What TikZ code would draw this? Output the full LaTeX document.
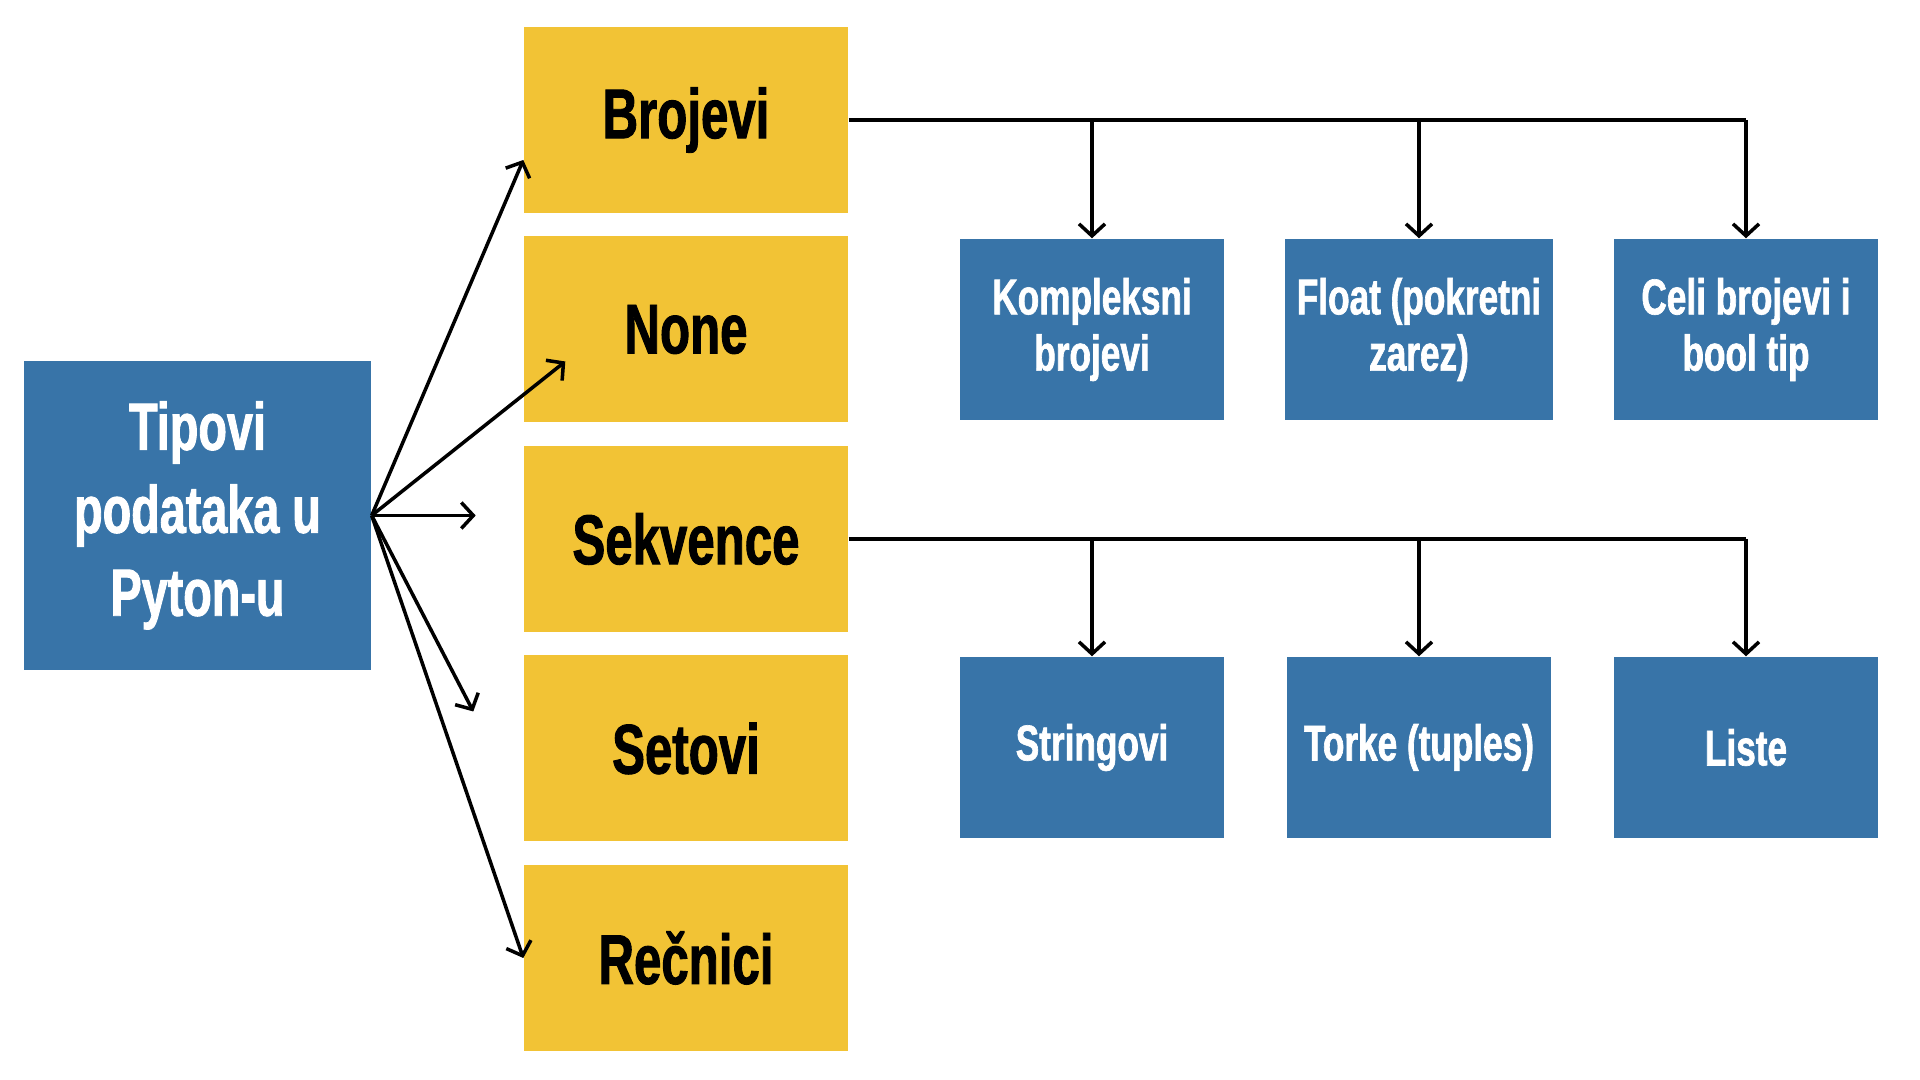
\documentclass[tikz,border=0pt]{standalone}
\usepackage{fontspec}
\newfontfamily\boxfont[FakeStretch=0.7,FakeBold=1.3]{Liberation Sans}
\usetikzlibrary{arrows.meta,positioning}
\definecolor{tipblue}{RGB}{56,116,168}
\definecolor{tipyellow}{RGB}{242,195,53}
\tikzset{
	mainbox/.style={fill=tipblue,text=white,minimum width=3.47cm,minimum height=3.09cm,align=center,font=\boxfont\bfseries\fontsize{19}{23.6}\selectfont},
	typebox/.style={fill=tipyellow,minimum width=3.24cm,minimum height=1.86cm,font=\boxfont\bfseries\fontsize{20}{24}\selectfont},
	subbox/.style={fill=tipblue,text=white,minimum width=2.64cm,minimum height=1.81cm,align=center,font=\boxfont\bfseries\fontsize{14.3}{16}\selectfont},
	link/.style={line width=1pt},
	>={Straight Barb[length=1.2mm,width=2.6mm]}
}
\begin{document}
\begin{tikzpicture}
	\path[use as bounding box] (0,0) rectangle (19.2,10.8);
	\node[mainbox] (tip) at (1.975,5.645) {Tipovi\\podataka u\\Pyton-u};
	\foreach \t [count=\n] in {Brojevi,None,Sekvence,Setovi,Rečnici}
		\node[typebox] (Y\n) at (6.86,{9.6-(\n-1)*2.095}) {\t};
	\foreach \t [count=\n] in {{Kompleksni\\brojevi},{Float (pokretni\\zarez)},{Celi brojevi i\\bool tip}}
		\node[subbox] (B\n) at ({10.92+(\n-1)*3.27},7.505) {\t};
	\foreach \t [count=\n] in {Stringovi,Torke (tuples),Liste}
		\node[subbox] (S\n) at ({10.92+(\n-1)*3.27},3.325) {\t};

	\coordinate (endB) at ([yshift=-0.4cm]Y1.west);
	\coordinate (endN) at ([shift={(0.42,-0.32)}]Y2.west);
	\coordinate (endS) at ([xshift=1.04cm]tip.east);
	\coordinate (endT) at ([shift={(-0.5,0.37)}]Y4.west);
	\draw[link,->] (tip.east) -- (endB);
	\draw[link,->] (tip.east) -- (endN);
	\draw[link,->] (tip.east) -- (endS);
	\draw[link,->] (tip.east) -- (endT);
	\draw[link,->] (tip.east) -- (Y5.west);

	\draw[link] (Y1.east) -- (Y1.east -| B3.north);
	\draw[link] (Y3.east) -- (Y3.east -| S3.north);
	\foreach \n in {1,2,3}{
		\draw[link,->] (B\n.north |- Y1.east) -- (B\n.north);
		\draw[link,->] (S\n.north |- Y3.east) -- (S\n.north);
	}
\end{tikzpicture}
\end{document}
